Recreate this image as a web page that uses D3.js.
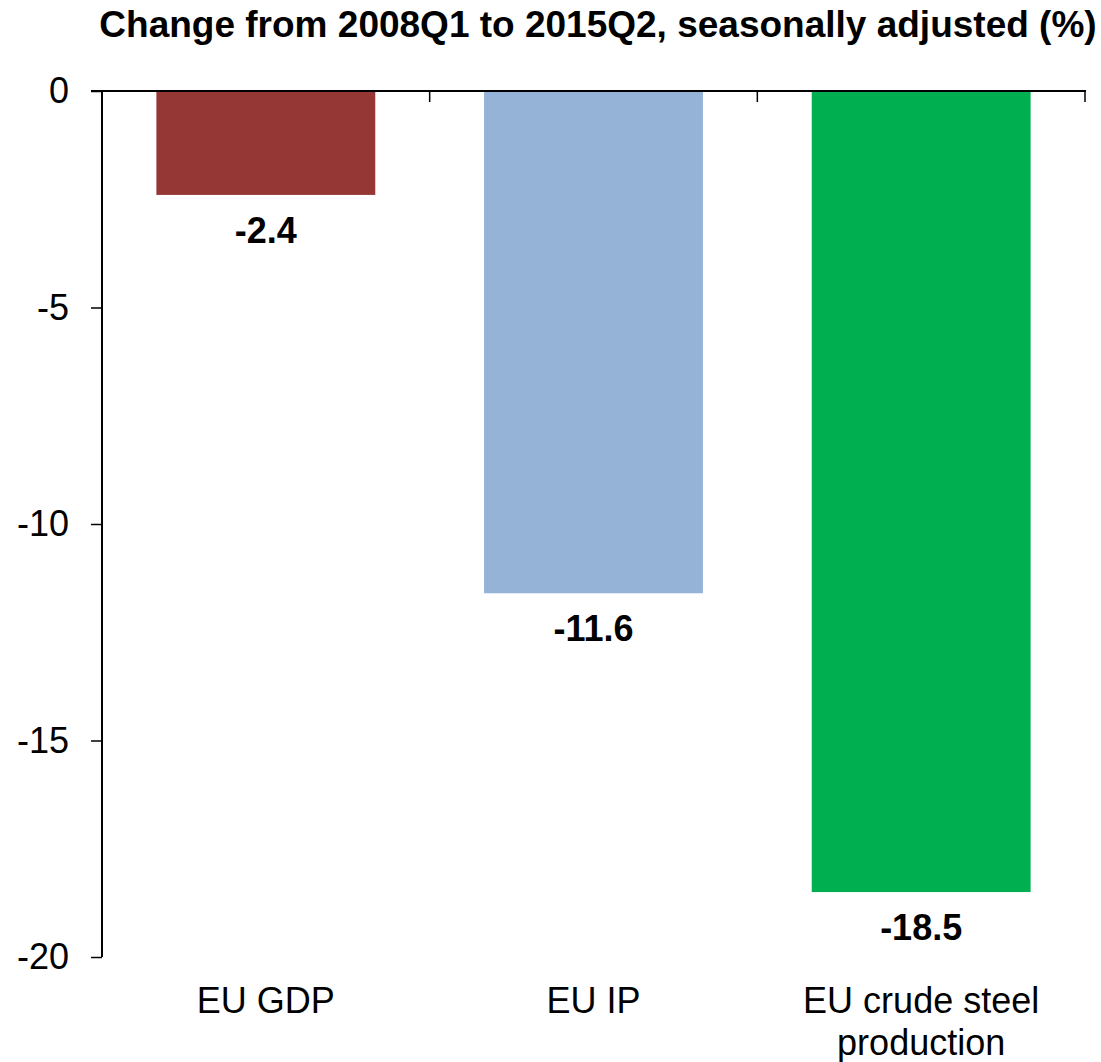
<!DOCTYPE html>
<html>
<head>
<meta charset="utf-8">
<script src="https://cdn.jsdelivr.net/npm/d3@7"></script>
<style>
  html, body { margin: 0; padding: 0; background: #fff; }
  svg { display: block; }
  text { font-family: "Liberation Sans", Arial, sans-serif; fill: #000; }
</style>
</head>
<body>
<svg id="chart" width="1101" height="1062"></svg>
<script>
const categories = ["EU GDP", "EU IP", "EU crude steel production"];
const values = [-2.4, -11.6, -18.5];
const colors = ["#953735", "#95B3D7", "#00B050"];
const yTicks = [0, -5, -10, -15, -20];
const titleText = "Change from 2008Q1 to 2015Q2, seasonally adjusted (%)";

const svg = d3.select("#chart");
const plotLeft = 102, plotRight = 1085, plotTop = 91, plotBottom = 957;

const x = d3.scaleBand().domain(categories).range([plotLeft, plotRight])
  .paddingInner(0.332).paddingOuter(0.166);
const y = d3.scaleLinear().domain([0, -20]).range([plotTop, plotBottom]);

// Title
svg.append("text")
  .attr("x", 598).attr("y", 37)
  .attr("text-anchor", "middle")
  .style("font-size", "37px").style("font-weight", "bold")
  .text(titleText);

// Bars
svg.selectAll("rect.bar").data(values).enter().append("rect")
  .attr("class", "bar")
  .attr("x", (d, i) => x(categories[i]))
  .attr("width", x.bandwidth())
  .attr("y", d => y(Math.max(0, d)))
  .attr("height", d => Math.abs(y(d) - y(0)))
  .attr("fill", (d, i) => colors[i]);

// Data labels
svg.selectAll("text.dl").data(values).enter().append("text")
  .attr("class", "dl")
  .attr("x", (d, i) => x(categories[i]) + x.bandwidth() / 2)
  .attr("y", d => y(d) + 48)
  .attr("text-anchor", "middle")
  .style("font-size", "36px").style("font-weight", "bold")
  .text(d => d.toFixed(1));

// Y axis
const yAxis = d3.axisLeft(y).tickValues(yTicks).tickSize(11).tickPadding(22)
  .tickFormat(d => String(d));
const gy = svg.append("g").attr("transform", `translate(${plotLeft},0)`).call(yAxis);
gy.attr("font-family", null).attr("font-size", null);
gy.select(".domain").attr("stroke", "#000").attr("stroke-width", 2)
  .attr("d", `M0,${plotTop}V${plotBottom}`);
gy.selectAll(".tick line").attr("stroke", "#000").attr("stroke-width", 1.5);
gy.selectAll(".tick text").style("font-size", "36px").attr("fill", "#000");

// X axis (at zero, top) with boundary ticks
const gx = svg.append("g");
gx.append("line").attr("x1", plotLeft - 11).attr("x2", plotRight + 1)
  .attr("y1", y(0)).attr("y2", y(0))
  .attr("stroke", "#000").attr("stroke-width", 2);
const boundaries = categories.slice(1)
  .map(c => x(c) - x.step() * x.paddingInner() / 2)
  .concat([plotRight]);
gx.selectAll("line.bt").data(boundaries).enter().append("line")
  .attr("class", "bt")
  .attr("x1", d => d).attr("x2", d => d)
  .attr("y1", y(0)).attr("y2", y(0) + 11)
  .attr("stroke", "#000").attr("stroke-width", 1.5);

// Category labels
const labelLines = {
  "EU GDP": ["EU GDP"],
  "EU IP": ["EU IP"],
  "EU crude steel production": ["EU crude steel", "production"]
};
categories.forEach(c => {
  const t = svg.append("text")
    .attr("x", x(c) + x.bandwidth() / 2)
    .attr("y", 1013)
    .attr("text-anchor", "middle")
    .style("font-size", "36px");
  labelLines[c].forEach((ln, j) => {
    t.append("tspan").attr("x", x(c) + x.bandwidth() / 2)
      .attr("dy", j === 0 ? 0 : 42).text(ln);
  });
});
</script>
</body>
</html>
